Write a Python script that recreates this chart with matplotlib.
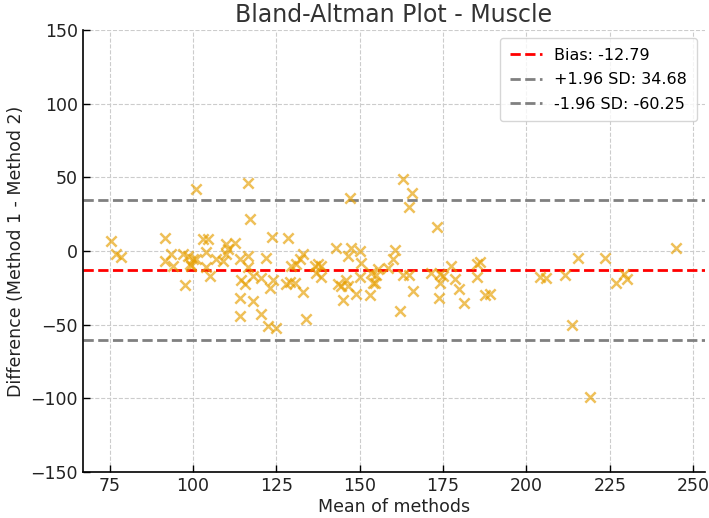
import numpy as np
import matplotlib
matplotlib.use("Agg")
import matplotlib.pyplot as plt

# ========================
# Données
# ========================
mean_vals = [
    75.5, 77, 78.5, 91.5, 91.5, 93.5, 94, 97, 97.5, 98.5, 99, 100, 99.5, 100.8, 101,
    103, 104.5, 104, 104, 105, 107, 109, 110, 110, 110.4, 112.5, 114, 116.5, 116.5,
    114.5, 115.5, 118, 120.5, 114, 118, 114, 120.5, 122.5, 125, 122, 123, 124, 123.8,
    116.5, 117, 128.5, 128, 129, 130.5, 129.5, 131, 132, 133, 133, 134, 136.5, 137.5,
    138.5, 137, 138.5, 143, 143.5, 144.5, 145, 146.5, 147.5, 146.5, 146, 147, 149,
    150, 150.5, 150, 153, 154, 155, 163, 165.7, 164.7, 173.3, 160.5, 160, 158.5,
    155.5, 153.5, 154.5, 163, 164.8, 166, 162.2, 171.5, 174, 175, 174.2, 173.8,
    177.5, 178.5, 179.8, 181.3, 185.2, 186.2, 185.2, 187.5, 189.2, 204.2, 205.8,
    211.7, 215.5, 213.7, 219, 223.7, 227, 229.2, 230.2, 245,
]
diff_vals = [
    6.8, -1.8, -4, 8.8, -7, -2, -10, -2, -23, -3.5, -8.6, -5.5, -10, 42, -5.5,
    8, 8, -1, -11, -17, -5.5, -7, 4.7, -2, 1.3, 5.7, -5.5, -3.4, -11,
    -20, -22.6, -17, -18.5, -32, -34, -44, -43, -51, -52, -4.5, -25, -20, 9.5,
    46.4, 21.7, 8.6, -22.6, -20.8, -21.5, -10, -9, -5.6, -2.3, -28, -46, -10, -9,
    -10, -14.7, -18, 1.8, -22.6, -23.8, -33.5, -3.4, 1.8, -23.8, -20, 36, -29.4,
    0, -8, -18, -30, -21.5, -16, 48.6, 39.6, 29.9, 16.3, 0.5, -5.7, -11.8,
    -12.5, -14.7, -21.5, -16, -16.3, -27, -41, -14.7, -15.4, -17, -21.5, -32,
    -10, -19, -26, -35.5, -9, -7.3, -17.6, -30, -29.4, -17.6, -18.5,
    -16.5, -4.5, -50.2, -99, -4.5, -21.5, -15.8, -19.2, 2.3,
]

bias = -12.79
upper_loa = 34.68
lower_loa = -60.25

# ========================
# Tracé
# ========================
fig, ax = plt.subplots(figsize=(7.09, 5.18), dpi=100)
fig.subplots_adjust(left=0.117, right=0.994, top=0.942, bottom=0.089)

ax.scatter(mean_vals, diff_vals, marker="x", s=55, linewidths=1.8,
           color="#E69F00", alpha=0.65, zorder=3)

ax.axhline(bias, color="red", linestyle="--", linewidth=2, label=f"Bias: {bias:.2f}", zorder=2)
ax.axhline(upper_loa, color="gray", linestyle="--", linewidth=2,
           label=f"+1.96 SD: {upper_loa:.2f}", zorder=2)
ax.axhline(lower_loa, color="gray", linestyle="--", linewidth=2,
           label=f"-1.96 SD: {lower_loa:.2f}", zorder=2)

ax.set_ylim(-150, 150)
ax.set_xticks([75, 100, 125, 150, 175, 200, 225, 250])
ax.set_yticks([-150, -100, -50, 0, 50, 100, 150])

ax.set_title("Bland-Altman Plot - Muscle", fontsize=17, color="#333333", pad=6)
ax.set_xlabel("Mean of methods", fontsize=12.5, color="#222222", labelpad=2)
ax.set_ylabel("Difference (Method 1 - Method 2)", fontsize=12.5, color="#222222", labelpad=4)

ax.grid(True, linestyle="--", color="#cccccc", linewidth=0.8, zorder=0)
ax.set_axisbelow(True)
ax.spines["top"].set_visible(False)
ax.spines["right"].set_visible(False)
ax.spines["left"].set_linewidth(1.2)
ax.spines["bottom"].set_linewidth(1.2)
ax.tick_params(direction="in", length=5, width=1, labelsize=12.5, labelcolor="#222222")

leg = ax.legend(loc="upper right", fontsize=11.5, frameon=True, fancybox=True,
                handlelength=2.0, borderpad=0.6, labelspacing=0.6)
leg.get_frame().set_edgecolor("#cccccc")

plt.savefig("out.png", dpi=100)
